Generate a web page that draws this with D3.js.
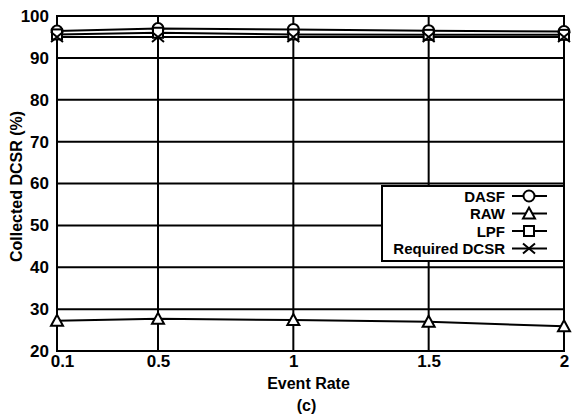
<!DOCTYPE html>
<html><head><meta charset="utf-8">
<script src="https://cdn.jsdelivr.net/npm/d3@7"></script>
<style>body{margin:0;background:#fff}svg{display:block}text{font-family:"Liberation Sans",Arial,sans-serif;font-weight:bold;fill:#000}</style>
</head><body>
<svg id="c" width="572" height="419"></svg>
<script>
const xValues = [0.1, 0.5, 1, 1.5, 2];
const xTickLabels = ["0.1", "0.5", "1", "1.5", "2"];
const yTicks = [20, 30, 40, 50, 60, 70, 80, 90, 100];
const dasf = [96.4, 97.0, 96.8, 96.5, 96.3];
const raw = [27.2, 27.7, 27.4, 27.0, 25.9];
const lpf = [95.6, 96.0, 95.6, 95.5, 95.5];
const required = [95.0, 95.0, 95.0, 95.0, 95.0];
const seriesNames = ["DASF", "RAW", "LPF", "Required DCSR"];
const seriesData = [dasf, raw, lpf, required];
const seriesSymbols = ["circle", "triangle", "square", "cross"];

const FONT = '"Liberation Sans",Arial,sans-serif';
const L = 57, R = 564, T = 16, B = 351;
const svg = d3.select("#c");
const x = d3.scaleLinear().domain([0.1, 0.5, 2]).range([L, L + (R - L) * 101 / 507, R]);
const y = d3.scaleLinear().domain([20, 100]).range([B, T]);

// grid
const g = svg.append("g");
g.selectAll(".h").data(yTicks).join("line")
  .attr("x1", L).attr("x2", R).attr("y1", d => y(d)).attr("y2", d => y(d))
  .attr("stroke", "#000").attr("stroke-width", 2);
g.selectAll(".v").data(xValues).join("line")
  .attr("y1", T).attr("y2", B).attr("x1", d => x(d)).attr("x2", d => x(d))
  .attr("stroke", "#000").attr("stroke-width", 2);
g.append("rect").attr("x", L).attr("y", T).attr("width", R - L).attr("height", B - T)
  .attr("fill", "none").attr("stroke", "#000").attr("stroke-width", 2);

// axes labels
const yAxis = d3.axisLeft(y).tickValues(yTicks).tickSize(0).tickPadding(8);
const ya = svg.append("g").attr("transform", `translate(${L},0)`).call(yAxis);
ya.select(".domain").remove();
ya.selectAll("text").style("font-size", "17px").style("font-family", FONT).style("font-weight", "bold");
const xAxis = d3.axisBottom(x).tickValues(xValues).tickFormat((d, i) => xTickLabels[i]).tickSize(0).tickPadding(4);
const xa = svg.append("g").attr("transform", `translate(0,${B})`).call(xAxis);
xa.select(".domain").remove();
xa.selectAll("text").style("font-size", "17px").style("font-family", FONT).style("font-weight", "bold")
  .attr("dx", (d, i) => i === 0 ? 5 : 0);

svg.append("text").attr("x", (L + R) / 2 - 2).attr("y", 389).attr("text-anchor", "middle").style("font-size", "16px").text("Event Rate");
svg.append("text").attr("x", (L + R) / 2 - 4).attr("y", 411).attr("text-anchor", "middle").style("font-size", "16px").text("(c)");
svg.append("text").attr("transform", `translate(22,${(T + B) / 2 + 3}) rotate(-90)`).attr("text-anchor", "middle").style("font-size", "16px").text("Collected DCSR (%)");

// marker drawer
function marker(sel, type) {
  if (type === "circle") sel.append("circle").attr("r", 5.5).attr("fill", "#fff").attr("stroke", "#000").attr("stroke-width", 2);
  else if (type === "triangle") sel.append("path").attr("d", "M0,-6L6,5L-6,5Z").attr("fill", "#fff").attr("stroke", "#000").attr("stroke-width", 2);
  else if (type === "square") sel.append("rect").attr("x", -5).attr("y", -5).attr("width", 10).attr("height", 10).attr("fill", "#fff").attr("stroke", "#000").attr("stroke-width", 2);
  else sel.append("path").attr("d", "M-6,-5L6,5M-6,5L6,-5").attr("fill", "none").attr("stroke", "#000").attr("stroke-width", 2);
}

const line = d3.line().x((d, i) => x(xValues[i])).y(d => y(d));
seriesData.forEach((s, k) => {
  svg.append("path").attr("d", line(s)).attr("fill", "none").attr("stroke", "#000").attr("stroke-width", 2);
});
seriesData.forEach((s, k) => {
  s.forEach((v, i) => {
    const m = svg.append("g").attr("transform", `translate(${x(xValues[i])},${y(v)})`);
    marker(m, seriesSymbols[k]);
  });
});

// legend
const lg = svg.append("g");
lg.append("rect").attr("x", 382).attr("y", 186).attr("width", R - 382).attr("height", 75)
  .attr("fill", "#fff").attr("stroke", "#000").attr("stroke-width", 2);
seriesNames.forEach((n, i) => {
  const yy = 196 + i * 17.5;
  lg.append("text").attr("x", 505).attr("y", yy + 5.5).attr("text-anchor", "end").style("font-size", "15px").text(n);
  lg.append("line").attr("x1", 512).attr("x2", 547).attr("y1", yy).attr("y2", yy).attr("stroke", "#000").attr("stroke-width", 2);
  const m = lg.append("g").attr("transform", `translate(529,${yy})`);
  marker(m, seriesSymbols[i]);
});
</script>
</body></html>
